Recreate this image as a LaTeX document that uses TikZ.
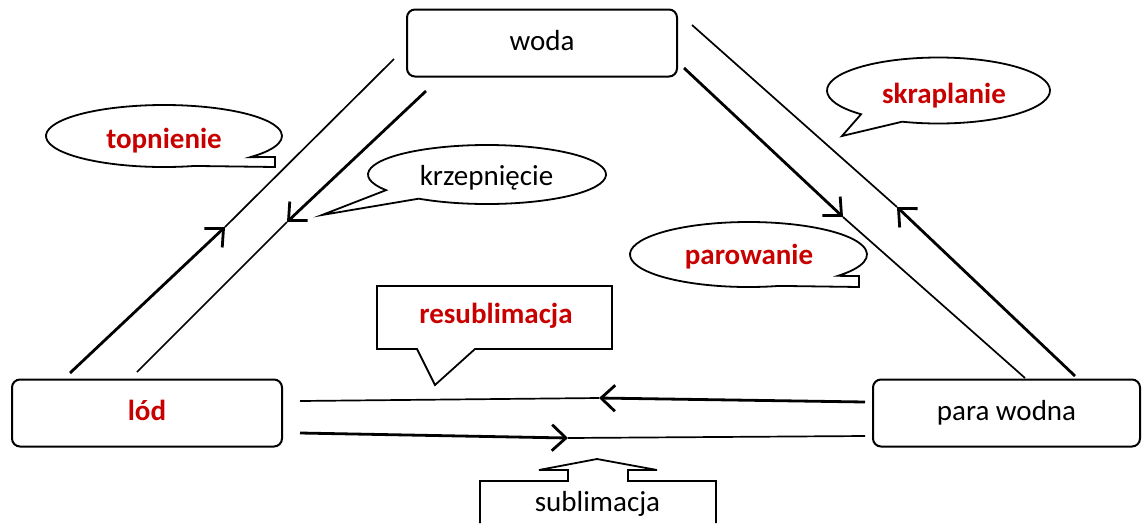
\documentclass[tikz,border=0pt]{standalone}
\usepackage{fontspec}
\setmainfont{Carlito}
\usetikzlibrary{arrows.meta}
\definecolor{labelRed}{RGB}{200,0,0}

\begin{document}
\begin{tikzpicture}[x=1pt, y=-1pt,
    stateBox/.style={draw, line width=2pt, rounded corners=8pt, minimum width=270pt, minimum height=67pt, text height=20pt, text depth=6pt, font=\fontsize{29}{35}\selectfont},
    thinLine/.style={line width=1.7pt},
    thickArrow/.style={line width=2.8pt, -{Straight Barb[length=14pt, width=26pt]}},
    bubble/.style={draw, line width=1.8pt, fill=white, line join=miter},
    plainText/.style={anchor=base, inner sep=0pt, font=\fontsize{29}{35}\selectfont},
    redText/.style={plainText, text=labelRed, font=\fontsize{29}{35}\selectfont\bfseries}]
\useasboundingbox (0,0) rectangle (1143,523);

\node[stateBox] (woda) at (542,43) {woda};
\node[stateBox, text=labelRed, font=\fontsize{29}{35}\selectfont\bfseries] (lod) at (147,413) {lód};
\node[stateBox, minimum width=267pt] (paraWodna) at (1006.5,413) {para wodna};

\coordinate (topnienieStart) at (70,373);
\coordinate (topnienieMid) at (225,227);
\coordinate (topnienieEnd) at (394,59);
\coordinate (krzepniecieStart) at (426,91);
\coordinate (krzepniecieMid) at (287,222);
\coordinate (krzepniecieEnd) at (137,372);
\coordinate (parowanieStart) at (684,68);
\coordinate (parowanieMid) at (843,217);
\coordinate (parowanieEnd) at (1025,378);
\coordinate (skraplanieStart) at (1075,376);
\coordinate (skraplanieMid) at (897,207);
\coordinate (skraplanieEnd) at (692,25);
\coordinate (resublimacjaStart) at (865,402);
\coordinate (resublimacjaMid) at (599,398);
\coordinate (resublimacjaEnd) at (300,401);
\coordinate (sublimacjaStart) at (300,433);
\coordinate (sublimacjaMid) at (568,438);
\coordinate (sublimacjaEnd) at (865,436);

\draw[thickArrow] (topnienieStart) -- (topnienieMid);
\draw[thinLine] (topnienieMid) -- (topnienieEnd);
\draw[thickArrow] (krzepniecieStart) -- (krzepniecieMid);
\draw[thinLine] (krzepniecieMid) -- (krzepniecieEnd);
\draw[thickArrow] (parowanieStart) -- (parowanieMid);
\draw[thinLine] (parowanieMid) -- (parowanieEnd);
\draw[thickArrow] (skraplanieStart) -- (skraplanieMid);
\draw[thinLine] (skraplanieMid) -- (skraplanieEnd);
\draw[thickArrow] (resublimacjaStart) -- (resublimacjaMid);
\draw[thinLine] (resublimacjaMid) -- (resublimacjaEnd);
\draw[thickArrow] (sublimacjaStart) -- (sublimacjaMid);
\draw[thinLine] (sublimacjaMid) -- (sublimacjaEnd);

\draw[bubble] (164,136) ++(75:118 and 31) arc[start angle=75, end angle=403, x radius=118, y radius=31] -- (275,157) -- (275,167) -- cycle;
\node[redText] (topnienieLabel) at (164,148) {topnienie};

\draw[bubble] (487,174.5) ++(148:119 and 29.5) arc[start angle=148, end angle=485, x radius=119, y radius=29.5] -- (322,215) -- cycle;
\node[plainText] (krzepniecieLabel) at (486.5,185) {krzepnięcie};

\draw[bubble] (938.5,90.5) ++(134:111.5 and 33) arc[start angle=134, end angle=469, x radius=111.5, y radius=33] -- (842,136) -- cycle;
\node[redText] (skraplanieLabel) at (944,103) {skraplanie};

\draw[bubble] (748.5,254.5) ++(75:118.5 and 32.5) arc[start angle=75, end angle=401, x radius=118.5, y radius=32.5] -- (859,276) -- (859,287) -- cycle;
\node[redText] (parowanieLabel) at (749,264) {parowanie};

\draw[bubble] (377,286) -- (612,286) -- (612,349) -- (475,349) -- (435,385) -- (417,349) -- (377,349) -- cycle;
\node[redText] (resublimacjaLabel) at (496,323) {resublimacja};

\draw[bubble] (480,523) -- (480,481) -- (568,481) -- (568,470) -- (539,470) -- (597,459) -- (657,470) -- (628,470) -- (628,481) -- (716,481) -- (716,523);
\node[plainText] (sublimacjaLabel) at (597.5,511) {sublimacja};

\end{tikzpicture}
\end{document}
